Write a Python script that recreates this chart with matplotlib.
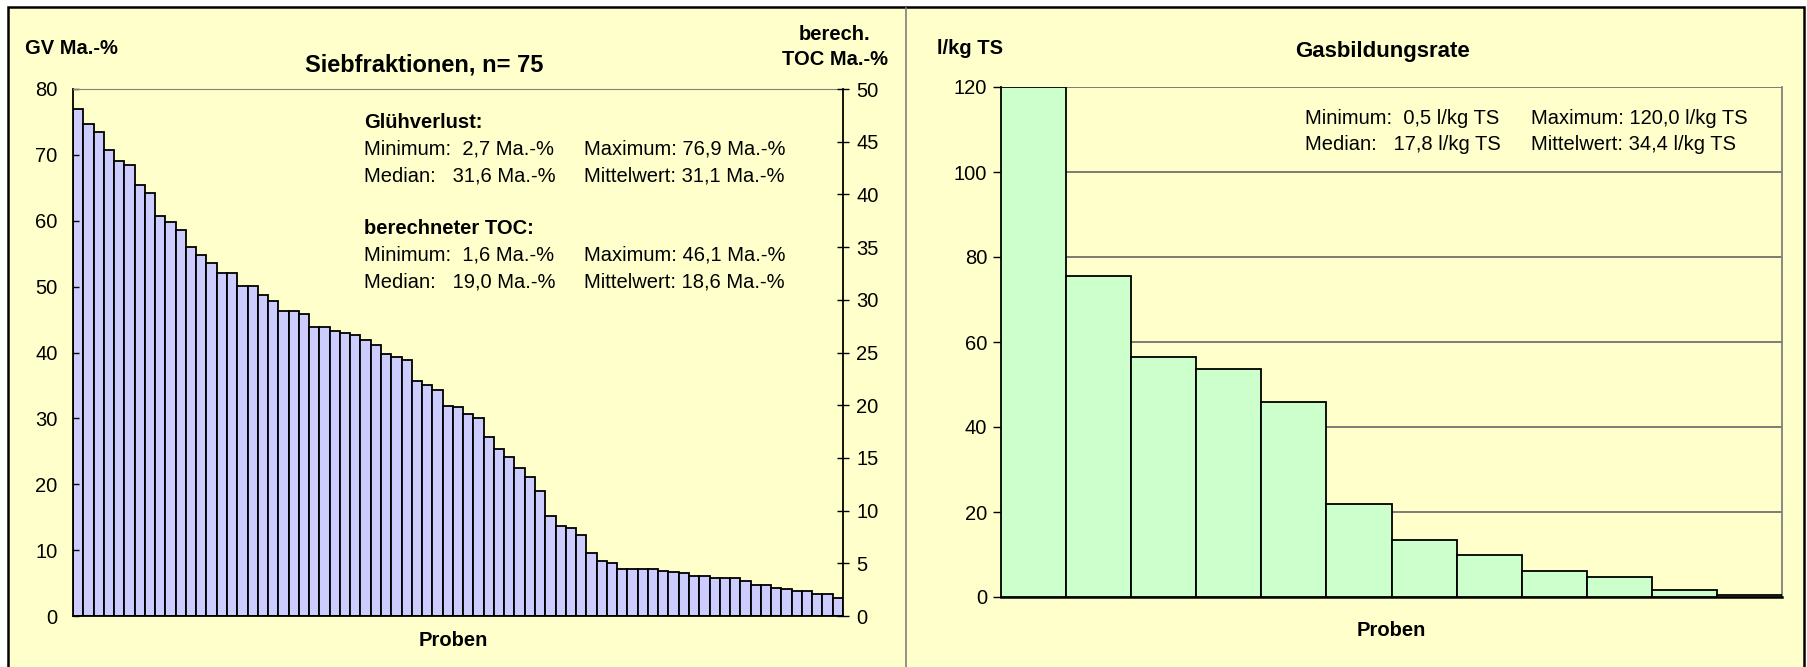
import matplotlib.pyplot as plt
from matplotlib.patches import Rectangle
from matplotlib.lines import Line2D

plt.rcParams['font.family'] = ['Liberation Sans', 'DejaVu Sans']

# Siebfraktionen: Glühverlust per sample, sorted (n = 75)
gv_values = [76.9, 74.7, 73.5, 70.7, 69.0, 68.5, 65.5, 64.2, 60.7, 59.8,
             58.6, 56.0, 54.8, 53.6, 52.0, 52.0, 50.1, 50.1, 48.7, 47.8,
             46.3, 46.3, 45.9, 43.9, 43.9, 43.2, 43.0, 42.6, 41.9, 41.2,
             39.7, 39.3, 38.8, 35.7, 35.0, 34.3, 31.9, 31.8, 30.7, 30.0,
             27.2, 25.3, 24.1, 22.5, 21.1, 19.0, 15.2, 13.6, 13.3, 12.3,
             9.5, 8.4, 8.1, 7.1, 7.1, 7.1, 7.1, 6.9, 6.7, 6.5,
             6.1, 6.1, 5.8, 5.8, 5.8, 5.3, 4.7, 4.7, 4.3, 4.1,
             3.8, 3.8, 3.4, 3.4, 2.7]
gv_ticks = [0, 10, 20, 30, 40, 50, 60, 70, 80]
toc_ticks = [0, 5, 10, 15, 20, 25, 30, 35, 40, 45, 50]

# Gasbildungsrate per sample, sorted
gas_values = [120.0, 75.6, 56.5, 53.7, 45.9, 21.9, 13.5, 9.9, 6.2, 4.7, 1.7, 0.5]
gas_ticks = [0, 20, 40, 60, 80, 100, 120]

gv_stats = [("Minimum:  2,7 Ma.-%", "Maximum: 76,9 Ma.-%"),
            ("Median:   31,6 Ma.-%", "Mittelwert: 31,1 Ma.-%")]
toc_stats = [("Minimum:  1,6 Ma.-%", "Maximum: 46,1 Ma.-%"),
             ("Median:   19,0 Ma.-%", "Mittelwert: 18,6 Ma.-%")]
gas_stats = [("Minimum:  0,5 l/kg TS", "Maximum: 120,0 l/kg TS"),
             ("Median:   17,8 l/kg TS", "Mittelwert: 34,4 l/kg TS")]

W, H = 1807, 667
BG = "#FFFFCC"
GREY = "#808080"
GRID = "#666666"
fig = plt.figure(figsize=(W / 100, H / 100), dpi=100, facecolor="white")


def fx(x):
    return x / W


def fy(y):
    return 1 - y / H


def ftext(x, y, s, **kw):
    kw.setdefault("fontsize", 14.5)
    kw.setdefault("va", "center")
    fig.text(fx(x), fy(y), s, **kw)


# chart background, outer frame and panel divider
fig.patches.append(Rectangle((fx(8), -0.02), fx(1804) - fx(8), fy(7) + 0.02,
                             transform=fig.transFigure, facecolor=BG,
                             edgecolor="black", linewidth=1.8, zorder=-10))
fig.lines.append(Line2D([fx(906), fx(906)], [0, fy(8)], transform=fig.transFigure,
                        color=GREY, linewidth=1.2, zorder=-5))

# ---- left chart: Siebfraktionen ----
ax1 = fig.add_axes([fx(73), fy(616), fx(843) - fx(73), fy(89) - fy(616)])
ax1.set_facecolor(BG)
ax1.bar(range(len(gv_values)), gv_values, width=1.0, color="#CCCCFF",
        edgecolor="black", linewidth=1.3)
ax1.set_xlim(-0.5, len(gv_values) - 0.5)
ax1.set_ylim(0, 80)
ax1.set_yticks(gv_ticks)
ax1.set_xticks([])
ax1.tick_params(axis="y", direction="in", length=4, width=1, labelsize=14.5, pad=11)
for s in ["left", "bottom"]:
    ax1.spines[s].set_linewidth(1.3)
ax1.spines["top"].set_color(GREY)
ax1.spines["right"].set_visible(False)

ax1b = ax1.twinx()
ax1b.set_ylim(0, 50)
ax1b.set_yticks(toc_ticks)
ax1b.tick_params(axis="y", direction="inout", length=9, width=1, labelsize=14.5, pad=5)
ax1b.spines["right"].set_linewidth(1.3)
for s in ["left", "top", "bottom"]:
    ax1b.spines[s].set_visible(False)

ftext(25, 48, "GV Ma.-%", fontweight="bold")
ftext(835, 47, "berech.\nTOC Ma.-%", fontweight="bold", ha="center", linespacing=1.4)
ftext(424, 65, "Siebfraktionen, n= 75", fontweight="bold", fontsize=17, ha="center")
ftext(453, 640, "Proben", fontweight="bold", ha="center")

ftext(364, 123, "Glühverlust:", fontweight="bold")
for i, (a, b) in enumerate(gv_stats):
    ftext(364, 149 + 27 * i, a)
    ftext(584, 149 + 27 * i, b)
ftext(364, 228, "berechneter TOC:", fontweight="bold")
for i, (a, b) in enumerate(toc_stats):
    ftext(364, 255 + 27 * i, a)
    ftext(584, 255 + 27 * i, b)

# ---- right chart: Gasbildungsrate ----
ax2 = fig.add_axes([fx(1001), fy(597), fx(1782) - fx(1001), fy(87) - fy(597)])
ax2.set_facecolor(BG)
ax2.bar(range(len(gas_values)), gas_values, width=1.0, color="#CCFFCC",
        edgecolor="black", linewidth=1.3, zorder=3)
ax2.set_xlim(-0.5, len(gas_values) - 0.5)
ax2.set_ylim(0, 120)
ax2.set_yticks(gas_ticks)
ax2.set_xticks([])
ax2.yaxis.grid(True, color=GRID, linewidth=1.2)
ax2.set_axisbelow(True)
ax2.tick_params(axis="y", direction="out", length=6, width=1, labelsize=14.5, pad=4)
ax2.spines["top"].set_visible(False)
ax2.spines["right"].set_color(GREY)
ax2.spines["right"].set_linewidth(1.3)
ax2.spines["left"].set_linewidth(1.3)
ax2.spines["bottom"].set_linewidth(1.8)

ftext(937, 49, "l/kg TS", fontweight="bold")
ftext(1382, 51, "Gasbildungsrate", fontweight="bold", fontsize=16, ha="center")
ftext(1391, 630, "Proben", fontweight="bold", ha="center")
for i, (a, b) in enumerate(gas_stats):
    ftext(1305, 118 + 27 * i, a)
    ftext(1531, 118 + 27 * i, b)

fig.savefig("out.png", dpi=100, facecolor=fig.get_facecolor())
